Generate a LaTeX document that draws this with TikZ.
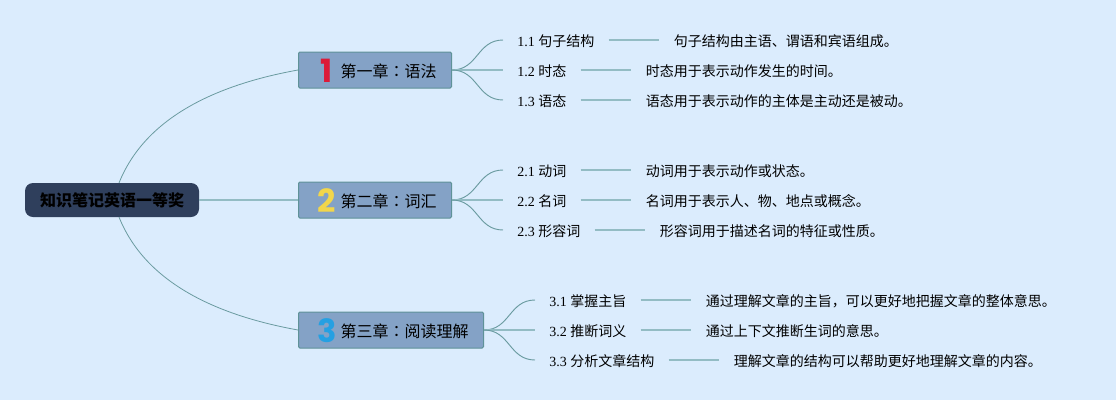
\documentclass[tikz,border=0pt]{standalone}
\usepackage{fontspec}
\setmainfont{Liberation Serif}
\newfontfamily\cjkfont{Noto Sans CJK SC}
\newfontfamily\cjktcfont{Noto Sans CJK TC}
\newfontfamily\iconfont{Poppins}[BoldFont=* Bold]
\usepackage{xcolor}
\usetikzlibrary{positioning}

\definecolor{pagebg}{HTML}{DBECFD}
\definecolor{rootfill}{HTML}{2F3F5C}
\definecolor{chapfill}{HTML}{84A2C6}
\definecolor{chapedge}{HTML}{5F9298}
\definecolor{thinline}{HTML}{6A9BA0}
\definecolor{thickline}{HTML}{93BCC4}
\definecolor{iconred}{HTML}{DC1A38}
\definecolor{iconyellow}{HTML}{F2D64B}
\definecolor{iconblue}{HTML}{25A0E2}

\newcommand{\zh}[1]{{\cjkfont #1}}
\newcommand{\chaptitle}[3]{%
  \makebox[20.25pt][c]{\smash{\raisebox{-3.75pt}{\fontsize{24}{24}\selectfont\iconfont\bfseries\textcolor{#1}{#2}}}}%
  \zh{#3}}
\newcommand{\cmark}{{\cjktcfont ：}}

\begin{document}
\begin{tikzpicture}[
    x=0.75pt,
    y=-0.75pt,
    rootbox/.style={rectangle,rounded corners=6pt,fill=rootfill,minimum width=130.5pt,
      minimum height=25.5pt,inner sep=0pt,font=\fontsize{12}{14}\selectfont\cjkfont\bfseries},
    chapbox/.style={rectangle,rounded corners=1pt,draw=chapedge,line width=0.75pt,fill=chapfill,
      minimum height=27pt,inner xsep=11.25pt,inner ysep=0pt,anchor=west,
      text height=12.1pt,text depth=1.4pt,font=\fontsize{12}{14}\selectfont},
    leafbox/.style={inner xsep=10.5pt,inner ysep=2pt,anchor=west,
      text height=10.8pt,text depth=1.5pt,font=\fontsize{10.5}{12}\selectfont},
    notebox/.style={inner xsep=11.25pt,inner ysep=2pt,
      text height=10.8pt,text depth=1.5pt,font=\fontsize{10.5}{12}\selectfont\cjkfont},
    bigcurve/.style={draw=thinline,line width=0.6pt},
    smallcurve/.style={draw=thinline,line width=0.7pt},
    thickrule/.style={draw=thickline,line width=1.1pt},
  ]

  % Background
  \fill[pagebg] (0,0) rectangle (1116,400);
  \useasboundingbox (0,0) rectangle (1116,400);

  % Root and chapters
  \node[rootbox] (root) at (112,200) {知识笔记英语一等奖};
  \node[chapbox] (chapa) at (298,70)  {\chaptitle{iconred}{1}{第一章\cmark 语法}};
  \node[chapbox] (chapb) at (298,200) {\chaptitle{iconyellow}{2}{第二章\cmark 词汇}};
  \node[chapbox] (chapc) at (298,330) {\chaptitle{iconblue}{3}{第三章\cmark 阅读理解}};

  % Free ends on top of the root
  \coordinate (rootup)   at (119,183);
  \coordinate (rootdown) at (119,217);

  % Root to chapters
  \draw[bigcurve]  (rootup) .. controls (145,118) and (215,85) .. (chapa.west);
  \draw[bigcurve]  (rootdown) .. controls (145,282) and (215,315) .. (chapc.west);
  \draw[thickrule] (root.east) -- (chapb.west);

  % Chapter 1
  \node[leafbox] (leafaa) at (503,40)  {1.1 \zh{句子结构}};
  \node[leafbox] (leafab) at (503,70)  {1.2 \zh{时态}};
  \node[leafbox] (leafac) at (503,100) {1.3 \zh{语态}};
  \node[notebox,right=37.5pt of leafaa] (noteaa) {句子结构由主语、谓语和宾语组成。};
  \node[notebox,right=37.5pt of leafab] (noteab) {时态用于表示动作发生的时间。};
  \node[notebox,right=37.5pt of leafac] (noteac) {语态用于表示动作的主体是主动还是被动。};

  % Chapter 2
  \node[leafbox] (leafba) at (503,170) {2.1 \zh{动词}};
  \node[leafbox] (leafbb) at (503,200) {2.2 \zh{名词}};
  \node[leafbox] (leafbc) at (503,230) {2.3 \zh{形容词}};
  \node[notebox,right=37.5pt of leafba] (noteba) {动词用于表示动作或状态。};
  \node[notebox,right=37.5pt of leafbb] (notebb) {名词用于表示人、物、地点或概念。};
  \node[notebox,right=37.5pt of leafbc] (notebc) {形容词用于描述名词的特征或性质。};

  % Chapter 3
  \node[leafbox] (leafca) at (535,300) {3.1 \zh{掌握主旨}};
  \node[leafbox] (leafcb) at (535,330) {3.2 \zh{推断词义}};
  \node[leafbox] (leafcc) at (535,360) {3.3 \zh{分析文章结构}};
  \node[notebox,right=37.5pt of leafca] (noteca) {通过理解文章的主旨，可以更好地把握文章的整体意思。};
  \node[notebox,right=37.5pt of leafcb] (notecb) {通过上下文推断生词的意思。};
  \node[notebox,right=37.5pt of leafcc] (notecc) {理解文章的结构可以帮助更好地理解文章的内容。};

  % Chapters to leaves
  \draw[smallcurve] (chapa.east) .. controls +(26,0) and +(-26,0) .. (leafaa.west);
  \draw[thickrule]  (chapa.east) -- (leafab.west);
  \draw[smallcurve] (chapa.east) .. controls +(26,0) and +(-26,0) .. (leafac.west);

  \draw[smallcurve] (chapb.east) .. controls +(26,0) and +(-26,0) .. (leafba.west);
  \draw[thickrule]  (chapb.east) -- (leafbb.west);
  \draw[smallcurve] (chapb.east) .. controls +(26,0) and +(-26,0) .. (leafbc.west);

  \draw[smallcurve] (chapc.east) .. controls +(26,0) and +(-26,0) .. (leafca.west);
  \draw[thickrule]  (chapc.east) -- (leafcb.west);
  \draw[smallcurve] (chapc.east) .. controls +(26,0) and +(-26,0) .. (leafcc.west);

  % Leaves to notes
  \draw[thickrule] (leafaa) -- (noteaa);
  \draw[thickrule] (leafab) -- (noteab);
  \draw[thickrule] (leafac) -- (noteac);
  \draw[thickrule] (leafba) -- (noteba);
  \draw[thickrule] (leafbb) -- (notebb);
  \draw[thickrule] (leafbc) -- (notebc);
  \draw[thickrule] (leafca) -- (noteca);
  \draw[thickrule] (leafcb) -- (notecb);
  \draw[thickrule] (leafcc) -- (notecc);

\end{tikzpicture}
\end{document}
